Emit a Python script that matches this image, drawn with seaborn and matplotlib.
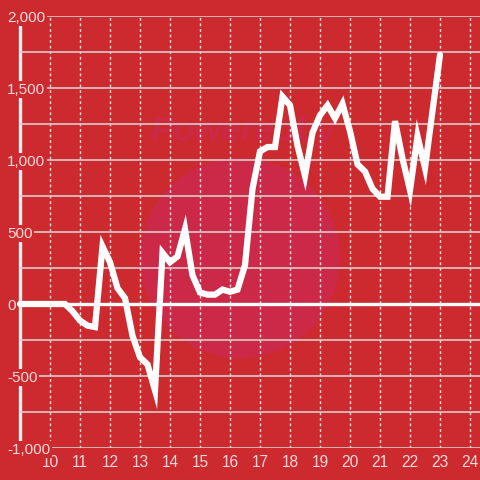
import numpy as np
import pandas as pd
import seaborn as sns
import matplotlib
matplotlib.use("Agg")
import matplotlib.pyplot as plt
from matplotlib.patches import Circle
from matplotlib.transforms import IdentityTransform

# ---- data ----
hours = [9.0, 9.25, 9.5, 9.75, 10.0, 10.25, 10.5, 10.75, 11.0, 11.25, 11.5, 11.75,
         12.0, 12.25, 12.5, 12.75, 13.0, 13.25, 13.5, 13.75, 14.0, 14.25, 14.5, 14.75,
         15.0, 15.25, 15.5, 15.75, 16.0, 16.25, 16.5, 16.75, 17.0, 17.25, 17.5, 17.75,
         18.0, 18.25, 18.5, 18.75, 19.0, 19.25, 19.5, 19.75, 20.0, 20.25, 20.5, 20.75,
         21.0, 21.25, 21.5, 21.75, 22.0, 22.25, 22.5, 22.75, 23.0]
values = [0, 0, 0, 0, 0, 0, 0, -50, -115, -150, -160, 400,
          290, 110, 40, -220, -370, -420, -600, 355, 290, 330, 520, 200,
          80, 65, 65, 100, 85, 100, 270, 800, 1060, 1090, 1090, 1440,
          1380, 1100, 890, 1190, 1310, 1380, 1290, 1390, 1200, 970, 920, 800,
          745, 745, 1270, 1010, 790, 1165, 945, 1340, 1730]
x_ticks = list(range(10, 25))
y_ticks = [-1000, -500, 0, 500, 1000, 1500, 2000]
y_tick_labels = ["-1,000", "-500", "0", "500", "1,000", "1,500", "2,000"]

df = pd.DataFrame({"hour": hours, "value": values})

BG = "#cd2a2f"
WM = "#cb2947"
TXT = "#f4dada"

sns.set_theme(style="white")
plt.rcParams["font.family"] = ["Liberation Sans", "DejaVu Sans"]

fig = plt.figure(figsize=(4.8, 4.8), dpi=100, facecolor=BG)
ax = fig.add_axes([20 / 480, 1 - 448 / 480, 460 / 480, 432 / 480])
ax.set_facecolor(BG)

# watermark
wm = Circle((240, 480 - 258), 100, transform=IdentityTransform(),
            facecolor=WM, edgecolor="none", zorder=0.1)
ax.add_artist(wm)
ax.text(243 / 480, 1 - 132 / 480, "Poweredby", color=WM, fontsize=25,
        fontweight="bold", fontstyle="italic", ha="center", va="center",
        zorder=0.1, transform=fig.transFigure)

ax.set_xlim(9.0, 24.333)
ax.set_ylim(-1000, 2000)

ax.set_axisbelow(True)
ax.set_xticks(x_ticks)
ax.set_xticklabels([str(t) for t in x_ticks])
ax.set_yticks(y_ticks)
ax.set_yticklabels(y_tick_labels)
ax.set_yticks(np.arange(-1000, 2001, 250), minor=True)

ax.grid(axis="y", which="both", color="#d6cccc", linewidth=1.2, linestyle="-")
ax.grid(axis="x", which="major", color="#f0e6e6", linewidth=1.0, linestyle=(0, (2, 2)))

for s in ax.spines.values():
    s.set_visible(False)

ax.tick_params(axis="both", which="both", length=0)
ax.tick_params(axis="x", pad=5, labelsize=11.2, labelcolor=TXT)
ax.tick_params(axis="y", pad=9.3, labelsize=11, labelcolor=TXT)
for lab in ax.get_yticklabels():
    lab.set_horizontalalignment("left")
    lab.set_bbox(dict(facecolor=BG, edgecolor="none", boxstyle="square,pad=0.12"))

# left thick axis line and zero line
ax.axvline(9.0, color="#f4eeee", linewidth=2.4, zorder=0.4, clip_on=False)
ax.axhline(0, color="white", linewidth=2.4, zorder=1.5)

sns.lineplot(data=df, x="hour", y="value", ax=ax, color="white", linewidth=4.5,
             zorder=3, legend=False)
ax.lines[-1].set_solid_joinstyle("miter")
ax.lines[-1].set_clip_on(False)
ax.set_xlabel("")
ax.set_ylabel("")

fig.savefig("out.png", dpi=100, facecolor=BG)
